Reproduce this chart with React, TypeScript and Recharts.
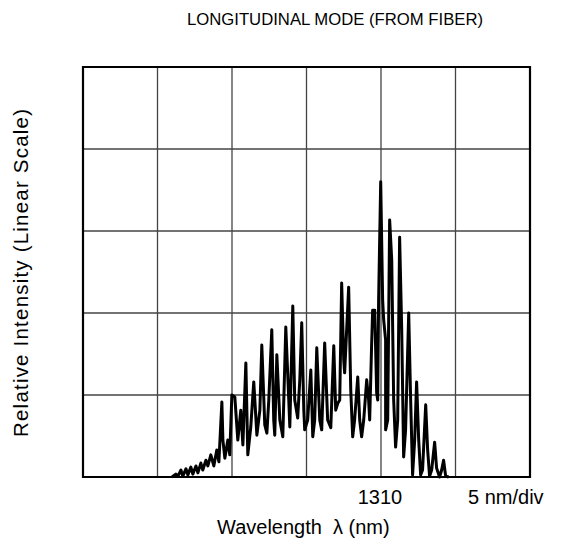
import React from "react";
import { LineChart, Line, XAxis, YAxis, CartesianGrid, ReferenceArea } from "recharts";

// spectrum trace: wavelength (nm) and relative intensity (% of full scale)
const wavelengthNm = [
  1295.97, 1296.23, 1296.37, 1296.57, 1296.70, 1296.91, 1297.04, 1297.24, 1297.37, 1297.58,
  1297.71, 1297.91, 1298.04, 1298.25, 1298.38, 1298.58, 1298.78, 1298.98, 1299.12, 1299.32,
  1299.39, 1299.52, 1299.72, 1299.85, 1299.99, 1300.19, 1300.39, 1300.59, 1300.73, 1300.93,
  1301.06, 1301.26, 1301.46, 1301.67, 1301.87, 1302.00, 1302.20, 1302.34, 1302.47, 1302.67,
  1302.80, 1302.87, 1303.01, 1303.21, 1303.41, 1303.61, 1303.81, 1303.88, 1304.08, 1304.21,
  1304.41, 1304.55, 1304.68, 1304.82, 1304.88, 1305.08, 1305.29, 1305.42, 1305.55, 1305.69,
  1305.89, 1306.02, 1306.22, 1306.42, 1306.63, 1306.83, 1306.96, 1307.10, 1307.23, 1307.36,
  1307.50, 1307.56, 1307.83, 1307.97, 1308.10, 1308.23, 1308.44, 1308.57, 1308.70, 1308.84,
  1309.04, 1309.17, 1309.24, 1309.37, 1309.44, 1309.58, 1309.71, 1309.78, 1309.84, 1309.98,
  1310.11, 1310.18, 1310.31, 1310.31, 1310.45, 1310.58, 1310.72, 1310.85, 1310.98, 1311.12,
  1311.25, 1311.39, 1311.52, 1311.65, 1311.86, 1311.99, 1312.12, 1312.26, 1312.39, 1312.53,
  1312.66, 1312.79, 1313.00, 1313.13, 1313.26, 1313.40, 1313.60, 1313.73, 1313.93, 1314.07,
  1314.20, 1314.34, 1314.54,
];
const intensityPct = [
  0, 0.7, 0.2, 1.7, 0.2, 2.0, 0.5, 2.4, 0.7, 2.7,
  1.0, 3.4, 1.7, 4.1, 2.7, 5.4, 2.7, 6.6, 3.7, 18.3,
  9.0, 4.6, 9.0, 5.4, 20.0, 19.5, 9.0, 16.3, 7.8, 27.8,
  5.4, 12.2, 23.2, 10.2, 16.3, 32.2, 12.7, 10.7, 18.8, 35.9,
  13.9, 10.2, 29.8, 13.9, 9.8, 36.6, 18.8, 12.2, 41.7, 18.8,
  14.4, 23.7, 37.6, 16.3, 11.5, 13.9, 26.1, 9.8, 13.9, 31.5,
  13.9, 11.5, 32.7, 13.9, 12.0, 32.0, 16.3, 18.0, 18.8, 47.3,
  28.5, 25.4, 46.3, 21.2, 9.8, 13.9, 24.4, 13.9, 9.8, 13.9,
  23.7, 18.8, 13.9, 32.2, 40.7, 40.7, 20.5, 18.8, 43.2, 72.0,
  43.2, 38.3, 33.4, 11.5, 13.9, 62.7, 52.9, 18.8, 7.3, 13.9,
  58.5, 35.9, 4.9, 11.5, 40.0, 18.8, 0.5, 9.0, 23.2, 9.0,
  0.5, 1.7, 17.6, 6.6, 0.2, 1.7, 8.5, 2.2, 0, 1.7,
  4.1, 0.2, 0,
];
const xTicks = [1290, 1295, 1300, 1305, 1310, 1315, 1320];
const yTicks = [0, 20, 40, 60, 80, 100];

const spectrum = wavelengthNm.map((nm, i) => ({ nm, intensity: intensityPct[i] }));

const font = '"Liberation Sans", Arial, sans-serif';

export default function App() {
  return (
    <div style={{ position: "absolute", left: 0, top: 0, width: 561, height: 546, background: "#fff" }}>
      <LineChart width={561} height={546} data={spectrum} margin={{ top: 67, right: 31, bottom: 69, left: 83 }}>
        <XAxis dataKey="nm" type="number" domain={[1290, 1320]} ticks={xTicks} hide />
        <YAxis type="number" domain={[0, 100]} ticks={yTicks} hide />
        <CartesianGrid stroke="#444" strokeWidth={1.3} />
        <ReferenceArea x1={1290} x2={1320} y1={0} y2={100} fill="none" stroke="#000" strokeWidth={2.2} />
        <Line
          type="linear"
          dataKey="intensity"
          stroke="#000"
          strokeWidth={3}
          strokeLinejoin="round"
          dot={false}
          isAnimationActive={false}
        />
      </LineChart>
      <svg width={561} height={546} style={{ position: "absolute", left: 0, top: 0, pointerEvents: "none" }}>
        <g fontFamily={font} fill="#000">
          <text x={335} y={25} fontSize={16.7} textAnchor="middle">LONGITUDINAL MODE (FROM FIBER)</text>
          <text
            x={0}
            y={0}
            fontSize={20.5}
            textAnchor="middle"
            textLength={328}
            lengthAdjust="spacing"
            transform="translate(28,273) rotate(-90)"
          >
            Relative Intensity (Linear Scale)
          </text>
          <text x={380} y={504} fontSize={20} textAnchor="middle">1310</text>
          <text x={468} y={504} fontSize={20}>5 nm/div</text>
          <text x={217} y={534} fontSize={20} style={{ whiteSpace: "pre" }}>Wavelength  λ (nm)</text>
        </g>
      </svg>
    </div>
  );
}
